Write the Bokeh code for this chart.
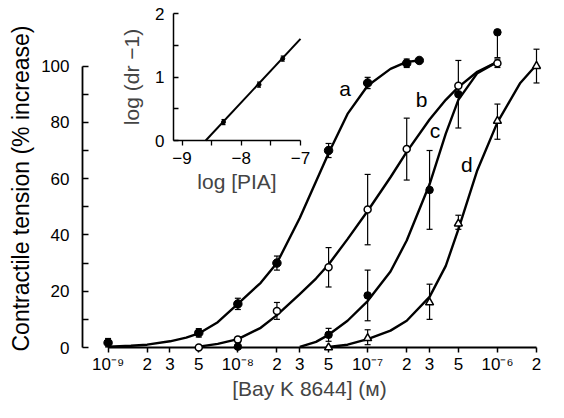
from bokeh.plotting import figure
from bokeh.models import Range1d, FixedTicker, CustomJSTickFormatter, Title
from bokeh.layouts import column
from bokeh.embed import file_html
from bokeh.resources import INLINE
from bokeh.core.properties import value

FONT = "Liberation Sans"

# ---------------- main chart data ----------------
x_ticks = [1e-9, 2e-9, 3e-9, 5e-9, 1e-8, 2e-8, 3e-8, 5e-8,
           1e-7, 2e-7, 3e-7, 5e-7, 1e-6, 2e-6]
x_tick_labels = ["10\u207b\u2079", "2", "3", "5", "10\u207b\u2078", "2", "3", "5",
                 "10\u207b\u2077", "2", "3", "5", "10\u207b\u2076", "2"]
y_ticks = [0, 20, 40, 60, 80, 100]
y_minor_ticks = [10, 30, 50, 70, 90]
x_title = "[Bay K 8644] (\u1d0d)"
y_title = "Contractile tension (% increase)"

# curve a (filled circles)
a_x = [1e-9, 5e-9, 1e-8, 2e-8, 5e-8, 1e-7, 2e-7, 2.5e-7]
a_y = [1.7, 5.2, 15.5, 30, 70, 94, 101, 102]
a_lo = [0.2, 3.7, 13.5, 27.5, 67.5, 92, 99.5, 102]
a_hi = [3.2, 6.7, 17.5, 32.5, 72.5, 96, 102.5, 102]

# curve b (open circles)
b_x = [5e-9, 1e-8, 2e-8, 5e-8, 1e-7, 2e-7, 5e-7, 1e-6]
b_y = [0, 2.8, 13, 28.5, 49, 70.5, 93, 101]
b_lo = [0, 1.8, 10, 21.5, 36.5, 59.5, 93, 99.5]
b_hi = [0, 3.8, 16, 35.5, 61.5, 81.5, 93, 102.5]

# curve c (filled circles)
c_x = [1e-8, 5e-8, 1e-7, 3e-7, 5e-7, 1e-6]
c_y = [0.3, 4.5, 18.5, 56, 90, 112]
c_lo = [0.3, 2.2, 9.5, 42, 78, 103]
c_hi = [0.3, 6.8, 27.5, 70, 102, 112]

# curve d (open triangles)
d_x = [5e-8, 1e-7, 3e-7, 5e-7, 1e-6, 2e-6]
d_y = [0, 3.3, 16, 44, 80.5, 100]
d_lo = [0, 1, 10, 42, 74, 94]
d_hi = [0, 6.3, 22.5, 47, 86.5, 106]

# fitted curves
a_curve_x = [1e-9, 1.5e-9, 2e-9, 3e-9, 4e-9, 5e-9, 7e-9, 1e-8, 1.5e-8, 2e-8,
             3e-8, 4e-8, 5e-8, 7e-8, 1e-7, 1.5e-7, 2e-7, 2.5e-7]
a_curve_y = [0.3, 0.6, 1.0, 2.2, 3.5, 5, 9, 15.5, 23, 30,
             46, 59, 69, 83, 93, 99, 101.5, 102]
b_curve_x = [5e-9, 7e-9, 1e-8, 1.5e-8, 2e-8, 3e-8, 4e-8, 5e-8, 7e-8, 1e-7,
             1.5e-7, 2e-7, 3e-7, 4e-7, 5e-7, 7e-7, 1e-6]
b_curve_y = [0.3, 1.3, 3, 7, 11.5, 19, 24.5, 29.5, 38.5, 48.5,
             60.5, 69.5, 81, 88, 92.5, 98, 101.5]
c_curve_x = [3e-8, 4e-8, 5e-8, 7e-8, 1e-7, 1.5e-7, 2e-7, 3e-7, 4e-7, 5e-7,
             7e-7, 1e-6]
c_curve_y = [0.2, 2, 4.5, 9.5, 16.5, 27, 38, 58, 76, 88, 97.5, 101.5]
d_curve_x = [5e-8, 7e-8, 1e-7, 1.5e-7, 2e-7, 3e-7, 4e-7, 5e-7, 7e-7, 1e-6,
             1.5e-6, 2e-6]
d_curve_y = [0.2, 1, 3, 6, 9.5, 18, 29, 42, 63, 80, 94, 100.5]

label_x = [6.7e-8, 2.6e-7, 3.3e-7, 5.8e-7]
label_y = [92, 88, 77, 65]
label_text = ["a", "b", "c", "d"]

# ---------------- inset data ----------------
pia_log = [-8.3, -7.7, -7.3]
dr_log = [0.29, 0.88, 1.29]
dr_lo = [0.25, 0.84, 1.25]
dr_hi = [0.33, 0.92, 1.33]
schild_x = [-8.6, -7.0]
schild_y = [0.0, 1.6]
inset_x_ticks = [-9, -8, -7]
inset_x_minor = [-8.5, -7.5]
inset_y_ticks = [0, 1, 2]
inset_y_minor = [0.5, 1.5]

# ---------------- main figure ----------------
p = figure(width=548, height=402, x_axis_type="log",
           x_range=Range1d(10 ** -9.197, 2e-6), y_range=Range1d(0, 113),
           output_backend="svg", toolbar_location=None,
           min_border_left=80, min_border_right=6, min_border_top=29, min_border_bottom=55)
p.background_fill_alpha = 0
p.border_fill_alpha = 0
p.outline_line_color = None
p.grid.visible = False

xa = p.xaxis[0]
xa.ticker = FixedTicker(ticks=x_ticks, minor_ticks=[])
xa.formatter = CustomJSTickFormatter(args=dict(t=x_ticks, l=x_tick_labels), code="""
let k = 0, d = 1e9;
for (let i = 0; i < t.length; i++) {
  const dd = Math.abs(Math.log10(t[i]) - Math.log10(tick));
  if (dd < d) { d = dd; k = i; }
}
return l[k];
""")
xa.bounds = (x_ticks[0], x_ticks[-1])
xa.axis_line_width = 1.8
xa.major_tick_out = 5
xa.major_tick_in = 0
xa.major_tick_line_width = 1.5
xa.major_label_standoff = 2
xa.major_label_text_font = FONT
xa.major_label_text_font_size = "17px"
xa.major_label_text_color = "black"
xa.axis_label = x_title
xa.axis_label_text_font = FONT
xa.axis_label_text_font_style = "normal"
xa.axis_label_text_font_size = "21px"
xa.axis_label_standoff = 0

ya = p.yaxis[0]
ya.ticker = FixedTicker(ticks=y_ticks, minor_ticks=y_minor_ticks)
ya.bounds = (0, 100)
ya.axis_line_width = 1.8
ya.major_tick_in = 6
ya.major_tick_out = 0
ya.minor_tick_in = 6
ya.minor_tick_out = 0
ya.major_tick_line_width = 1.5
ya.minor_tick_line_width = 1.5
ya.major_label_standoff = 13
ya.major_label_text_font = FONT
ya.major_label_text_font_size = "17px"
ya.major_label_text_color = "black"

# y-axis title, centred on the 0-100 part of the axis
p.add_layout(Title(text=y_title, align="center", offset=-27, standoff=10,
                   text_font=FONT, text_font_size="23px", text_font_style="normal",
                   text_color="black"), "left")


def errbars(fig, xs, lo, hi, cap=6, lw=1.2):
    fig.segment(x0=xs, y0=lo, x1=xs, y1=hi, line_width=lw, line_color="black", level="overlay")
    fig.scatter(list(xs) + list(xs), list(lo) + list(hi), marker="dash", size=cap,
                line_width=lw, line_color="black", level="overlay")


for xs, lo, hi in [(a_x, a_lo, a_hi), (b_x, b_lo, b_hi), (c_x, c_lo, c_hi), (d_x, d_lo, d_hi)]:
    errbars(p, xs, lo, hi)

for cx, cy in [(a_curve_x, a_curve_y), (b_curve_x, b_curve_y),
               (c_curve_x, c_curve_y), (d_curve_x, d_curve_y)]:
    p.line(cx, cy, line_width=2.4, line_color="black", level="overlay")

p.scatter(a_x, a_y, marker="circle", size=8.5, fill_color="black", line_color="black", level="overlay")
p.scatter(b_x, b_y, marker="circle", size=7, fill_color="white", line_color="black",
          line_width=1.5, level="overlay")
p.scatter(c_x, c_y, marker="circle", size=7.5, fill_color="black", line_color="black", level="overlay")
p.scatter(d_x, d_y, marker="triangle", size=8, fill_color="white", line_color="black",
          line_width=1.5, level="overlay")

p.text(x=label_x, y=label_y, text=label_text, text_font=value(FONT),
       text_font_size="21px", text_align="center", text_baseline="middle",
       text_color="black", level="overlay")

# ---------------- inset figure ----------------
q = figure(width=221, height=200, x_range=Range1d(-9.144, -7.0), y_range=Range1d(0, 2.0),
           output_backend="svg", toolbar_location=None,
           min_border_left=75, min_border_right=12, min_border_top=13, min_border_bottom=60)
q.background_fill_alpha = 0
q.border_fill_alpha = 0
q.outline_line_color = None
q.grid.visible = False

minus_fmt = CustomJSTickFormatter(code="return tick < 0 ? '\\u2212' + Math.abs(tick) : String(tick);")
qx = q.xaxis[0]
qx.ticker = FixedTicker(ticks=inset_x_ticks, minor_ticks=inset_x_minor)
qx.formatter = minus_fmt
qx.axis_line_width = 1.5
qx.major_tick_out = 5
qx.major_tick_in = 0
qx.minor_tick_out = 5
qx.minor_tick_in = 0
qx.major_tick_line_width = 1.3
qx.minor_tick_line_width = 1.3
qx.major_label_standoff = 6
qx.major_label_text_font = FONT
qx.major_label_text_font_size = "17px"
qx.major_label_text_color = "black"
qx.axis_label = "log [PIA]"
qx.axis_label_text_font = FONT
qx.axis_label_text_font_style = "normal"
qx.axis_label_text_font_size = "21px"
qx.axis_label_standoff = 3

qy = q.yaxis[0]
qy.ticker = FixedTicker(ticks=inset_y_ticks, minor_ticks=inset_y_minor)
qy.formatter = minus_fmt
qy.bounds = (0, 2)
qy.axis_line_width = 1.5
qy.major_tick_in = 5
qy.major_tick_out = 0
qy.minor_tick_in = 5
qy.minor_tick_out = 0
qy.major_tick_line_width = 1.3
qy.minor_tick_line_width = 1.3
qy.major_label_standoff = 9
qy.major_label_text_font = FONT
qy.major_label_text_font_size = "17px"
qy.major_label_text_color = "black"
qy.axis_label = "log (dr \u22121)"
qy.axis_label_text_font = FONT
qy.axis_label_text_font_style = "normal"
qy.axis_label_text_font_size = "21px"
qy.axis_label_standoff = 9

errbars(q, pia_log, dr_lo, dr_hi, cap=4)
q.line(schild_x, schild_y, line_width=2, line_color="black", level="overlay")
q.scatter(pia_log, dr_log, marker="circle", size=4, fill_color="black", line_color="black",
          level="overlay")

q.margin = (0, 0, 0, 91)
p.margin = (-200, 0, 0, 0)

layout = column(q, p)
open("out.html", "w").write(file_html(layout, INLINE))
